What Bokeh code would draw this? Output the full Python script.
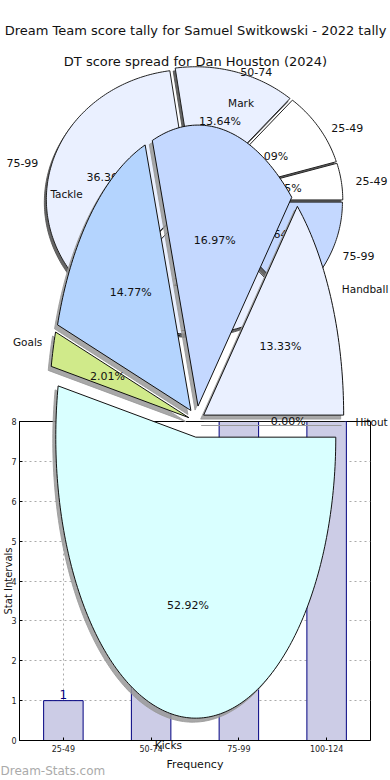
import numpy as np
from bokeh.plotting import figure
from bokeh.models import (FactorRange, Range1d, ColumnDataSource, LabelSet, Label,
                          FixedTicker)
from bokeh.embed import file_html
from bokeh.resources import INLINE
from bokeh.core.properties import value

W, H = 390, 780
FONT = "DejaVu Sans"

# ---------------- data ----------------
title_main = "Dream Team score tally for Samuel Switkowski - 2022 tally"
title_pie1 = "DT score spread for Dan Houston (2024)"

# histogram (Frequency / Stat Intervals)
bins = ["25-49", "50-74", "75-99", "100-124"]
counts = [1, 6, 9, 8]
y_ticks = [0, 1, 2, 3, 4, 5, 6, 7, 8]

# pie 1 : DT score spread for Dan Houston (2024)
p1_labels = ["25-49", "25-49", "50-74", "75-99", "50-74", "75-99"]
p1_values = [4.55, 9.09, 13.64, 36.36, 22.73, 13.64]
p1_colors = ["#ffffff", "#ffffff", "#eaf0ff", "#eaf0ff", "#eaf0ff", "#c4d8ff"]

# pie 2 : Dream Team score tally for Samuel Switkowski
p2_labels = ["Handball", "Mark", "Tackle", "Goals", "Kicks", "Hitout"]
p2_values = [13.33, 16.97, 14.77, 2.01, 52.92, 0.00]
p2_colors = ["#eaf0ff", "#c4d8ff", "#b4d4fe", "#d0ea8a", "#d9ffff", "#ffd6d6"]


def pie_geometry(values, cx, cy, rx, ry, explode):
    vals = np.asarray(values, dtype=float)
    spans = vals / vals.sum() * 2 * np.pi
    a0 = np.concatenate([[0.0], np.cumsum(spans)[:-1]])
    a1 = a0 + spans
    mid = (a0 + a1) / 2
    ax = cx + explode * rx * np.cos(mid)
    ay = cy + explode * ry * np.sin(mid)
    xs, ys = [], []
    for i in range(len(vals)):
        n = max(2, int(np.degrees(spans[i])) + 2)
        t = np.linspace(a0[i], a1[i], n)
        xs.append(np.concatenate([[ax[i]], ax[i] + rx * np.cos(t)]).tolist())
        ys.append(np.concatenate([[ay[i]], ay[i] + ry * np.sin(t)]).tolist())
    return xs, ys, ax, ay, mid


def draw_pie(fig, labels, values, colors, cx, cy, rx, ry, explode,
             shadow_dx, shadow_dy, shadow_color, shadow_alpha, line_color,
             out_kx, out_ky, label_size):
    xs, ys, ax, ay, mid = pie_geometry(values, cx, cy, rx, ry, explode)
    sxs = [[x + shadow_dx for x in xx] for xx in xs]
    sys_ = [[y + shadow_dy for y in yy] for yy in ys]
    fig.patches(sxs, sys_, fill_color=shadow_color, fill_alpha=shadow_alpha,
                line_color=shadow_color, line_alpha=shadow_alpha)
    fig.patches(xs, ys, fill_color=colors, line_color=line_color, line_width=1)
    # percentage labels
    px = ax + 0.6 * rx * np.cos(mid)
    py = ay + 0.6 * ry * np.sin(mid)
    pct = [f"{v:.2f}%" for v in values]
    fig.text(px, py, text=pct, text_align="center", text_baseline="middle",
             text_font=value(FONT), text_font_size="11px", text_color="#111111")
    # outside labels
    ox = ax + out_kx * rx * np.cos(mid)
    oy = ay + out_ky * ry * np.sin(mid)
    right = np.cos(mid) >= -1e-9
    for mask, align in ((right, "left"), (~right, "right")):
        idx = np.where(mask)[0]
        if len(idx):
            fig.text(ox[idx], oy[idx], text=[labels[i] for i in idx],
                     text_align=align, text_baseline="middle",
                     text_font=value(FONT), text_font_size=label_size,
                     text_color="#111111")


# ---------------- histogram figure (bottom layer) ----------------
P = figure(width=W, height=H, x_range=FactorRange(*bins), y_range=Range1d(0, 8),
           output_backend="svg", toolbar_location=None,
           x_axis_label="Frequency", y_axis_label="Stat Intervals",
           min_border_left=19, min_border_right=20, min_border_top=421,
           min_border_bottom=40)
P.styles = {"position": "absolute", "left": "0px", "top": "0px"}
P.vbar(x=bins, top=counts, width=0.45, fill_color="#ccccE6",
       line_color="#000080", line_width=1)
lab_src = ColumnDataSource(dict(x=bins, y=[min(c, 8) for c in counts],
                                t=[str(c) for c in counts]))
P.add_layout(LabelSet(x="x", y="y", text="t", source=lab_src, text_align="center",
                      text_baseline="bottom", y_offset=2, text_color="#000080",
                      text_font=value(FONT), text_font_size="12px"))
for axis in (P.xaxis[0], P.yaxis[0]):
    axis.axis_line_color = "black"
    axis.major_tick_line_color = "black"
    axis.minor_tick_line_color = None
    axis.major_tick_in = 3
    axis.major_tick_out = 0
    axis.major_label_text_font = FONT
    axis.major_label_text_font_size = "8px"
    axis.major_label_text_color = "#222222"
    axis.axis_label_text_font = FONT
    axis.axis_label_text_font_style = "normal"
    axis.axis_label_text_color = "#111111"
P.yaxis.ticker = FixedTicker(ticks=y_ticks)
P.yaxis.axis_label_text_font_size = "10px"
P.yaxis.axis_label_standoff = -6
P.yaxis.major_label_standoff = 3
P.xaxis.axis_label_text_font_size = "11px"
P.xaxis.major_label_standoff = 4
P.xaxis.axis_label_standoff = 3
for g in (P.xgrid[0], P.ygrid[0]):
    g.grid_line_dash = "2 3"
    g.grid_line_color = "#aaaaaa"
P.outline_line_color = "black"
P.background_fill_color = "white"

# ---------------- pies figure (top layer, transparent) ----------------
Q = figure(width=W, height=H, x_range=Range1d(0, W), y_range=Range1d(0, H),
           x_axis_type=None, y_axis_type=None, output_backend="svg",
           toolbar_location=None, min_border=0, background_fill_color=None,
           border_fill_color=None, outline_line_color=None)
Q.styles = {"position": "absolute", "left": "0px", "top": "0px"}

draw_pie(Q, p1_labels, p1_values, p1_colors, cx=194, cy=H - 200, rx=144, ry=130,
         explode=0.03, shadow_dx=-2, shadow_dy=-3, shadow_color="#555555",
         shadow_alpha=0.9, line_color="#222222", out_kx=1.1, out_ky=1.0,
         label_size="11px")
draw_pie(Q, p2_labels, p2_values, p2_colors, cx=196, cy=H - 421, rx=140, ry=281,
         explode=0.056, shadow_dx=-3, shadow_dy=-4, shadow_color="#999999",
         shadow_alpha=0.85, line_color="#111111", out_kx=1.08, out_ky=1.1,
         label_size="10.5px")

Q.add_layout(Label(x=W / 2, y=H - 30, text=title_main, text_align="center",
                   text_baseline="middle", text_font=FONT, text_font_size="13px",
                   text_color="#111111"))
Q.add_layout(Label(x=W / 2, y=H - 61, text=title_pie1, text_align="center",
                   text_baseline="middle", text_font=FONT, text_font_size="13px",
                   text_color="#111111"))
Q.add_layout(Label(x=0, y=H - 770, text="Dream-Stats.com", text_align="left",
                   text_baseline="middle", text_font=FONT, text_font_size="12px",
                   text_color="#aaaaaa"))

open("out.html", "w").write(file_html([P, Q], INLINE))
